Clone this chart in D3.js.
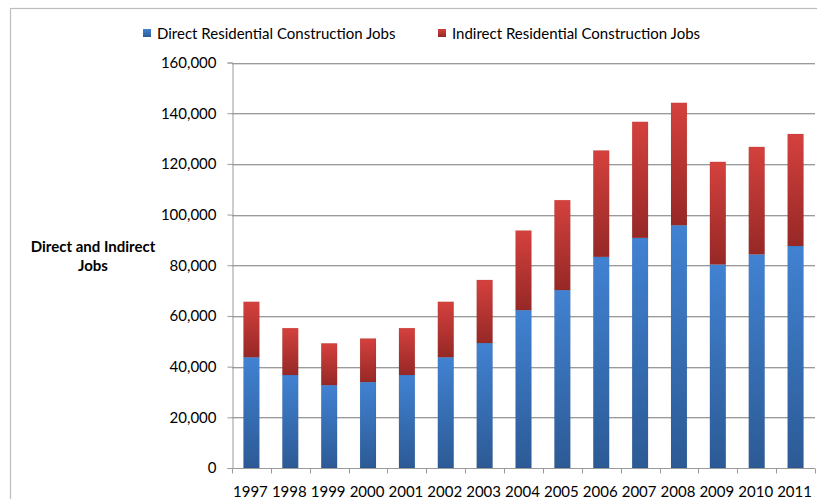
<!DOCTYPE html>
<html>
<head>
<meta charset="utf-8">
<script src="https://cdn.jsdelivr.net/npm/d3@7"></script>
<style>
  html, body { margin: 0; padding: 0; background: #fff; }
  svg { display: block; }
  text { font-family: Lato, "Open Sans", sans-serif; fill: #000; }
</style>
</head>
<body>
<svg id="chart" width="817" height="499"></svg>
<script>
// Residential construction jobs by year
const years = ["1997","1998","1999","2000","2001","2002","2003","2004","2005","2006","2007","2008","2009","2010","2011"];
const directJobs   = [43700, 36700, 32700, 33900, 36700, 43700, 49300, 62300, 70200, 83300, 90800, 95800, 80300, 84300, 87600];
const indirectJobs = [21900, 18500, 16500, 17200, 18500, 21900, 24900, 31400, 35500, 42000, 45800, 48300, 40500, 42400, 44200];
const seriesNames  = ["Direct Residential Construction Jobs", "Indirect Residential Construction Jobs"];
const yTicks = [0, 20000, 40000, 60000, 80000, 100000, 120000, 140000, 160000];
const yTitle = ["Direct and Indirect", "Jobs"];

const svg = d3.select("#chart");
const plot = { left: 232, right: 815, top: 62.5, bottom: 468 };

// gradients for each series
const defs = svg.append("defs");
function grad(id, top, bottom) {
  const g = defs.append("linearGradient").attr("id", id)
    .attr("x1", 0).attr("y1", 0).attr("x2", 0).attr("y2", 1);
  g.append("stop").attr("offset", "0%").attr("stop-color", top);
  g.append("stop").attr("offset", "100%").attr("stop-color", bottom);
}
grad("gDirect", "#4182d2", "#2c5a95");
grad("gIndirect", "#d4413d", "#962826");

// outer frame
svg.append("rect").attr("x", 10.5).attr("y", 8.5).attr("width", 830).attr("height", 520)
  .attr("fill", "none").attr("stroke", "#bdbdbd").attr("stroke-width", 1.2);

const x = d3.scaleBand().domain(years).range([plot.left, plot.right]).paddingInner(0.59).paddingOuter(0.295);
const y = d3.scaleLinear().domain([0, 160000]).range([plot.bottom, plot.top]);

// gridlines
svg.append("g").selectAll("line").data(yTicks.filter(d => d > 0)).join("line")
  .attr("x1", plot.left).attr("x2", plot.right)
  .attr("y1", d => Math.round(y(d)) + 0.5).attr("y2", d => Math.round(y(d)) + 0.5)
  .attr("stroke", "#9a9a9a").attr("stroke-width", 1);
svg.append("g").selectAll("line").data(yTicks.filter(d => d > 0)).join("line")
  .attr("x1", plot.left).attr("x2", plot.right)
  .attr("y1", d => Math.round(y(d)) + 1.5).attr("y2", d => Math.round(y(d)) + 1.5)
  .attr("stroke", "#dcdcdc").attr("stroke-width", 1);

// stacked bars
const rows = years.map((yr, i) => ({ year: yr, direct: directJobs[i], indirect: indirectJobs[i] }));
const stack = d3.stack().keys(["direct", "indirect"])(rows);
const fills = ["url(#gDirect)", "url(#gIndirect)"];
svg.append("g").selectAll("g").data(stack).join("g")
  .attr("fill", (d, i) => fills[i])
  .selectAll("rect").data(d => d).join("rect")
  .attr("x", d => x(d.data.year))
  .attr("width", x.bandwidth())
  .attr("y", d => y(d[1]))
  .attr("height", d => y(d[0]) - y(d[1]))
  .attr("stroke", "rgba(0,0,0,0.08)").attr("stroke-width", 0.6);

// y axis
const yAxis = d3.axisLeft(y).tickValues(yTicks).tickSize(5).tickPadding(11)
  .tickFormat(d3.format(","));
const ya = svg.append("g").attr("transform", `translate(${plot.left + 0.5},0)`).call(yAxis);
ya.select(".domain").attr("stroke", "#9a9a9a");
ya.selectAll(".tick line").attr("stroke", "#9a9a9a");
ya.selectAll(".tick text").attr("font-size", 15).attr("fill", "#000");

// x axis with ticks between categories
const xa = svg.append("g").attr("transform", `translate(0,${plot.bottom + 0.5})`);
xa.append("line").attr("x1", plot.left).attr("x2", plot.right).attr("stroke", "#9a9a9a");
const step = x.step();
xa.selectAll("line.tk").data(d3.range(years.length + 1)).join("line").attr("class", "tk")
  .attr("x1", i => Math.round(plot.left + i * step) + 0.5).attr("x2", i => Math.round(plot.left + i * step) + 0.5)
  .attr("y1", 0).attr("y2", 5).attr("stroke", "#9a9a9a");
xa.selectAll("text").data(years).join("text")
  .attr("x", d => x(d) + x.bandwidth() / 2 - 1)
  .attr("y", 28).attr("text-anchor", "middle").attr("font-size", 15).text(d => d);

// axis title
const yt = svg.append("text").attr("x", 93).attr("y", 252).attr("text-anchor", "middle")
  .attr("font-size", 15).attr("font-weight", "bold");
yt.selectAll("tspan").data(yTitle).join("tspan")
  .attr("x", 93).attr("dy", (d, i) => i === 0 ? 0 : 19).text(d => d);

// legend
const legend = svg.append("g");
const legendX = [143, 438];
seriesNames.forEach((name, i) => {
  legend.append("rect").attr("x", legendX[i]).attr("y", 29).attr("width", 8).attr("height", 8)
    .attr("fill", fills[i]);
  legend.append("text").attr("x", legendX[i] + 14).attr("y", 39).attr("font-size", 15).text(name);
});
</script>
</body>
</html>
